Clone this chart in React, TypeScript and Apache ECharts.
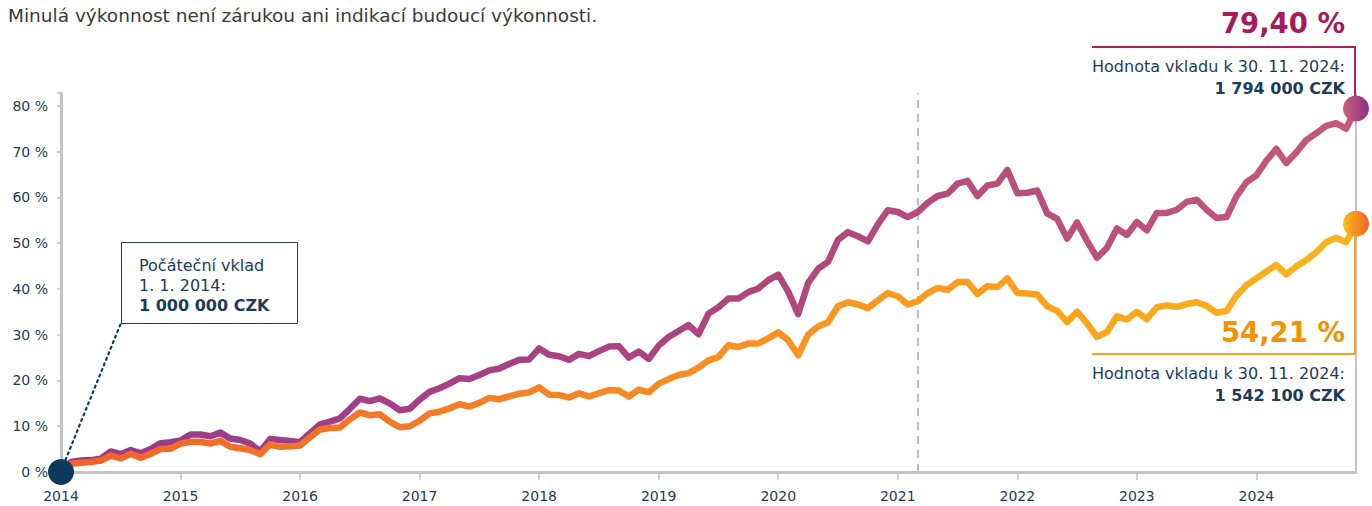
import React, { useEffect, useRef } from "react";
import * as echarts from "echarts";

// Monthly categories: Jan 2014 .. Nov 2024
const months: string[] = [];
for (let y = 2014; y <= 2024; y++) {
  for (let m = 1; m <= 12; m++) {
    if (y === 2024 && m > 11) break;
    months.push(`${y}-${m < 10 ? "0" + m : m}`);
  }
}

// Cumulative performance in % (purple = higher-risk strategy)
const purpleValues = [
  0, 2.2, 2.5, 2.6, 2.9, 4.5, 3.9, 4.8, 4.1, 5.0, 6.3, 6.5,
  6.9, 8.2, 8.2, 7.8, 8.6, 7.3, 7.0, 6.2, 4.5, 7.2, 7.0, 6.8,
  6.5, 8.5, 10.4, 11.0, 11.7, 13.8, 16.0, 15.5, 16.1, 15.0, 13.5, 13.8,
  15.8, 17.5, 18.3, 19.3, 20.5, 20.3, 21.2, 22.2, 22.6, 23.6, 24.5, 24.6,
  27.0, 25.6, 25.3, 24.5, 25.8, 25.3, 26.4, 27.4, 27.5, 25.0, 26.3, 24.7,
  27.6, 29.5, 30.8, 32.1, 30.1, 34.6, 36.0, 37.9, 37.9, 39.3, 40.1, 41.9,
  43.1, 39.4, 34.5, 41.3, 44.4, 45.9, 50.7, 52.4, 51.5, 50.4, 54.1, 57.2,
  56.8, 55.7, 56.8, 58.8, 60.3, 60.8, 63.0, 63.6, 60.3, 62.6, 63.0, 66.0,
  60.9, 61.0, 61.5, 56.5, 55.3, 51.0, 54.5, 50.5, 46.8, 49.0, 53.2, 51.8,
  54.6, 52.8, 56.6, 56.6, 57.3, 59.0, 59.5, 57.3, 55.5, 55.7, 60.2, 63.3,
  64.8, 68.0, 70.6, 67.5, 69.8, 72.5, 74.0, 75.6, 76.2, 75.0, 79.4,
];

// Cumulative performance in % (orange = lower-risk strategy)
const orangeValues = [
  0, 1.8, 2.0, 2.2, 2.5, 3.6, 3.0, 4.0, 3.1, 4.0, 5.0, 5.1,
  6.2, 6.6, 6.6, 6.2, 6.8, 5.5, 5.2, 4.8, 3.9, 6.0, 5.5, 5.6,
  5.8, 7.6, 9.3, 9.6, 9.7, 11.5, 13.0, 12.4, 12.6, 11.0, 9.8, 10.0,
  11.2, 12.8, 13.2, 13.9, 14.8, 14.3, 15.1, 16.2, 15.9, 16.5, 17.1, 17.4,
  18.5, 16.9, 16.8, 16.3, 17.2, 16.5, 17.2, 17.9, 17.8, 16.5, 18.0, 17.4,
  19.3, 20.3, 21.2, 21.6, 22.8, 24.4, 25.1, 27.7, 27.3, 28.1, 28.1, 29.2,
  30.5, 28.8, 25.5, 30.0, 31.8, 32.7, 36.2, 37.1, 36.6, 35.8, 37.5, 39.1,
  38.4, 36.6, 37.3, 39.1, 40.2, 39.8, 41.5, 41.5, 38.9, 40.6, 40.4, 42.3,
  39.1, 39.0, 38.8, 36.2, 35.2, 32.8, 35.0, 32.5, 29.5, 30.6, 34.0, 33.3,
  35.0, 33.4, 36.0, 36.4, 36.1, 36.7, 37.1, 36.3, 34.8, 35.2, 38.5, 40.8,
  42.3, 43.8, 45.2, 43.2, 44.9, 46.3, 48.0, 50.2, 51.2, 50.2, 54.21,
];

const yTicks = [0, 10, 20, 30, 40, 50, 60, 70, 80];
const markerMonth = "2021-03";

const disclaimer = "Minulá výkonnost není zárukou ani indikací budoucí výkonnosti.";
const purpleResult = "79,40 %";
const orangeResult = "54,21 %";
const valueCaption = "Hodnota vkladu k 30. 11. 2024:";
const purpleAmount = "1 794 000 CZK";
const orangeAmount = "1 542 100 CZK";
const startLines = ["Počáteční vklad", "1. 1. 2014:", "1 000 000 CZK"];

const FONT = "'DejaVu Sans', 'Open Sans', sans-serif";
const NAVY = "#1d3b58";

export default function App() {
  const ref = useRef<HTMLDivElement>(null);

  useEffect(() => {
    if (!ref.current) return;
    const chart = echarts.init(ref.current, undefined, { renderer: "svg" });
    const last = months.length - 1;
    const yMax = 82.8;

    const purpleGrad = new echarts.graphic.LinearGradient(0, 0, 1, 0, [
      { offset: 0, color: "#983a8c" },
      { offset: 0.5, color: "#ad457e" },
      { offset: 1, color: "#c4597a" },
    ]);
    const orangeGrad = new echarts.graphic.LinearGradient(0, 0, 1, 0, [
      { offset: 0, color: "#f0622a" },
      { offset: 0.5, color: "#f78f22" },
      { offset: 1, color: "#fbb41b" },
    ]);
    const purpleDot = new echarts.graphic.LinearGradient(0, 0, 1, 0, [
      { offset: 0, color: "#cc637b" },
      { offset: 1, color: "#8e2c86" },
    ]);
    const orangeDot = new echarts.graphic.LinearGradient(0, 0, 1, 0, [
      { offset: 0, color: "#fcbd18" },
      { offset: 1, color: "#f0622a" },
    ]);

    const textStyle = (extra: any) => ({
      fontFamily: FONT,
      fill: NAVY,
      fontSize: 16,
      ...extra,
    });

    chart.setOption({
      animation: false,
      grid: { left: 61, right: 16, top: 93, bottom: 34, containLabel: false },
      xAxis: {
        type: "category",
        data: months,
        boundaryGap: false,
        axisLine: { lineStyle: { color: "#c3c3c3", width: 3 } },
        axisTick: {
          show: true,
          length: 8,
          interval: (i: number) => i % 12 === 0,
          lineStyle: { color: "#c3c3c3", width: 1.5 },
        },
        axisLabel: {
          interval: (i: number) => i % 12 === 0,
          formatter: (v: string) => v.slice(0, 4),
          color: NAVY,
          fontFamily: FONT,
          fontSize: 14,
          margin: 17,
        },
        splitLine: { show: false },
      },
      yAxis: [
        {
          type: "value",
          min: 0,
          max: yMax,
          interval: 10,
          axisLine: { show: true, lineStyle: { color: "#c3c3c3", width: 3 } },
          axisTick: { show: true, length: 4, lineStyle: { color: "#c3c3c3", width: 1.5 } },
          axisLabel: {
            formatter: (v: number) => (yTicks.includes(v) ? `${v} %` : ""),
            color: NAVY,
            fontFamily: FONT,
            fontSize: 14,
            margin: 13,
          },
          splitLine: { show: false },
        },
        {
          type: "value",
          position: "right",
          min: 0,
          max: yMax,
          axisLine: { show: true, lineStyle: { color: "#c3c3c3", width: 2 } },
          axisTick: { show: false },
          axisLabel: { show: false },
          splitLine: { show: false },
        },
      ],
      series: [
        {
          type: "line",
          data: purpleValues,
          symbol: "none",
          lineStyle: { width: 6.5, color: purpleGrad, cap: "round", join: "round" },
          emphasis: { disabled: true },
          z: 3,
          markLine: {
            silent: true,
            symbol: "none",
            label: { show: false },
            lineStyle: { color: "#bdbdbd", width: 2, type: [8, 6] },
            data: [{ xAxis: markerMonth }],
            z: 1,
          },
        },
        {
          type: "line",
          data: orangeValues,
          symbol: "none",
          lineStyle: { width: 6.5, color: orangeGrad, cap: "round", join: "round" },
          emphasis: { disabled: true },
          z: 4,
        },
        {
          type: "scatter",
          data: [[last, purpleValues[last]]],
          symbolSize: 26,
          itemStyle: { color: purpleDot, opacity: 1 },
          emphasis: { disabled: true },
          z: 6,
        },
        {
          type: "scatter",
          data: [[last, orangeValues[last]]],
          symbolSize: 26,
          itemStyle: { color: orangeDot, opacity: 1 },
          emphasis: { disabled: true },
          z: 6,
        },
        {
          type: "scatter",
          data: [[0, purpleValues[0]]],
          symbolSize: 26,
          itemStyle: { color: "#0c3a5b", opacity: 1 },
          emphasis: { disabled: true },
          z: 7,
        },
      ],
      graphic: [
        {
          type: "text",
          x: 8,
          y: 15,
          style: textStyle({ text: disclaimer, fontSize: 18.5, fill: "#3a3a3a", verticalAlign: "middle" }),
        },
        // purple result annotation
        {
          type: "text",
          x: 1345,
          y: 23,
          style: textStyle({
            text: purpleResult,
            fontSize: 27.5,
            fontWeight: "bold",
            fill: "#a51a5c",
            align: "right",
            verticalAlign: "middle",
          }),
        },
        {
          type: "polyline",
          z: 5,
          shape: { points: [[1092, 47], [1355, 47], [1355, 97]] },
          style: { stroke: "#a8245f", lineWidth: 2, fill: "none" },
        },
        {
          type: "text",
          x: 1345,
          y: 66,
          style: textStyle({ text: valueCaption, align: "right", verticalAlign: "middle" }),
        },
        {
          type: "text",
          x: 1345,
          y: 88,
          style: textStyle({ text: purpleAmount, fontWeight: "bold", align: "right", verticalAlign: "middle" }),
        },
        // orange result annotation
        {
          type: "text",
          x: 1345,
          y: 332,
          style: textStyle({
            text: orangeResult,
            fontSize: 27.5,
            fontWeight: "bold",
            fill: "#f39200",
            align: "right",
            verticalAlign: "middle",
          }),
        },
        {
          type: "polyline",
          z: 5,
          shape: { points: [[1092, 354], [1355, 354], [1355, 236]] },
          style: { stroke: "#f6a21c", lineWidth: 2, fill: "none" },
        },
        {
          type: "text",
          x: 1345,
          y: 373,
          style: textStyle({ text: valueCaption, align: "right", verticalAlign: "middle" }),
        },
        {
          type: "text",
          x: 1345,
          y: 395,
          style: textStyle({ text: orangeAmount, fontWeight: "bold", align: "right", verticalAlign: "middle" }),
        },
        // start annotation
        {
          type: "line",
          z: 5,
          shape: { x1: 61, y1: 471, x2: 121, y2: 323 },
          style: { stroke: "#0c3a5b", lineWidth: 2.2, lineDash: [2, 4], lineCap: "round" },
        },
        {
          type: "rect",
          z: 5,
          shape: { x: 121.5, y: 242.5, width: 176, height: 81 },
          style: { stroke: NAVY, lineWidth: 1, fill: "#ffffff" },
        },
        {
          type: "text",
          z: 6,
          x: 139,
          y: 265,
          style: textStyle({ text: startLines[0], verticalAlign: "middle" }),
        },
        {
          type: "text",
          z: 6,
          x: 139,
          y: 285,
          style: textStyle({ text: startLines[1], verticalAlign: "middle" }),
        },
        {
          type: "text",
          z: 6,
          x: 139,
          y: 305,
          style: textStyle({ text: startLines[2], fontWeight: "bold", verticalAlign: "middle" }),
        },
      ],
    });

    return () => chart.dispose();
  }, []);

  return (
    <div
      ref={ref}
      style={{ position: "absolute", left: 0, top: 0, width: 1372, height: 506, background: "#fff" }}
    />
  );
}
